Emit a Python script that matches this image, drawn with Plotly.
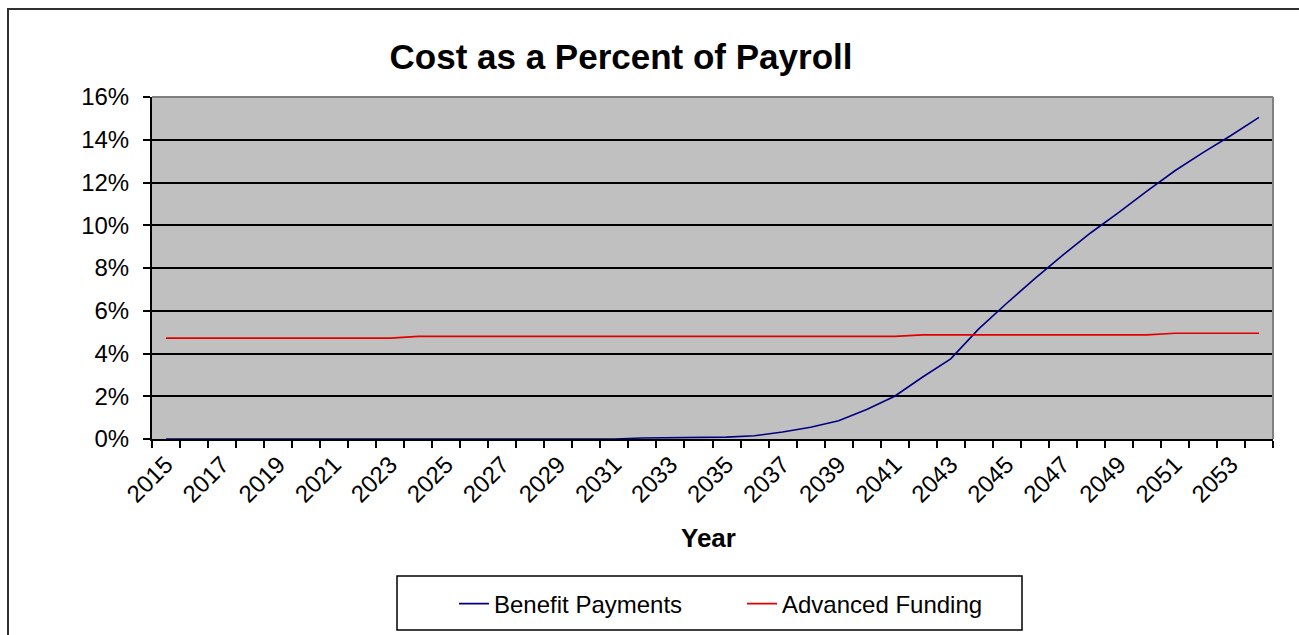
import plotly.graph_objects as go

years = list(range(2015, 2055))
benefit_payments = [0, 0, 0, 0, 0, 0, 0, 0, 0, 0,
                    0, 0, 0, 0, 0, 0, 0, 0.05, 0.06, 0.07,
                    0.09, 0.15, 0.33, 0.55, 0.85, 1.38, 2.0, 2.9, 3.75, 5.15,
                    6.35, 7.5, 8.6, 9.65, 10.6, 11.6, 12.55, 13.4, 14.2, 15.05]
advanced_funding = [4.72] * 9 + [4.80] * 18 + [4.87] * 9 + [4.95] * 4
benefit_payments = [v / 100 for v in benefit_payments]
advanced_funding = [v / 100 for v in advanced_funding]

label_years = list(range(2015, 2055, 2))
y_ticks = [0, 0.02, 0.04, 0.06, 0.08, 0.10, 0.12, 0.14, 0.16]

FONT = "Liberation Sans, Arial, sans-serif"

fig = go.Figure()
fig.add_trace(go.Scatter(x=years, y=benefit_payments, mode="lines",
                         name="Benefit Payments",
                         line=dict(color="#000080", width=1.6)))
fig.add_trace(go.Scatter(x=years, y=advanced_funding, mode="lines",
                         name="Advanced Funding",
                         line=dict(color="#E00000", width=1.6)))

L, R, T, B = 152, 26, 97, 196
W, H = 1299, 635
pw = W - L - R
ph = H - T - B

def px(x):
    return (x - L) / pw

def py(y):
    return (H - B - y) / ph

fig.update_layout(
    width=W, height=H,
    margin=dict(l=L, r=R, t=T, b=B, pad=0, autoexpand=False),
    paper_bgcolor="white",
    plot_bgcolor="#C0C0C0",
    font=dict(family=FONT, color="black"),
    title=dict(text="<b>Cost as a Percent of Payroll</b>",
               x=621 / W, xanchor="center", xref="container",
               y=1 - 57 / H, yanchor="middle", yref="container",
               font=dict(size=35, family=FONT, color="black")),
    showlegend=True,
    legend=dict(orientation="h", x=px(742), xanchor="center",
                y=py(604), yanchor="middle",
                font=dict(size=24, family=FONT, color="black"),
                bgcolor="rgba(0,0,0,0)", borderwidth=0,
                entrywidth=243, entrywidthmode="pixels"),
    xaxis=dict(range=[2014.5, 2054.5], tickmode="array", tickvals=label_years,
               ticktext=[str(y) for y in label_years], tickangle=-45,
               ticks="", showgrid=False, zeroline=False, automargin=False,
               showline=True, linecolor="black", linewidth=2,
               tickfont=dict(size=24, family=FONT, color="black"),
               minor=dict(tickmode="linear", tick0=2014.5, dtick=1,
                          ticks="outside", ticklen=7, tickcolor="black",
                          tickwidth=2, showgrid=False)),
    yaxis=dict(range=[0, 0.16], tickmode="array", tickvals=y_ticks,
               tickformat=".0%", ticks="outside", ticklen=7,
               tickcolor="black", tickwidth=2, automargin=False,
               showgrid=True, gridcolor="black", gridwidth=1.5,
               zeroline=False, showline=True, linecolor="black", linewidth=2,
               ticklabelstandoff=9,
               tickfont=dict(size=24, family=FONT, color="black")),
    annotations=[dict(text="<b>Year</b>", x=px(708), xref="paper",
                      y=py(538), yref="paper", showarrow=False,
                      xanchor="center", yanchor="middle",
                      font=dict(size=26, family=FONT, color="black"))],
    shapes=[
        dict(type="rect", xref="paper", yref="paper",
             x0=px(8), x1=px(1310), y0=py(9), y1=py(700),
             line=dict(color="#303030", width=2), fillcolor="rgba(0,0,0,0)"),
        dict(type="line", xref="paper", yref="paper", x0=0, x1=1, y0=1, y1=1,
             line=dict(color="#808080", width=2)),
        dict(type="line", xref="paper", yref="paper", x0=1, x1=1, y0=0, y1=1,
             line=dict(color="#808080", width=2)),
        dict(type="rect", xref="paper", yref="paper",
             x0=px(397), x1=px(1022), y0=py(630), y1=py(576),
             line=dict(color="black", width=1.5), fillcolor="rgba(0,0,0,0)"),
    ],
)

fig.write_html("out.html")
